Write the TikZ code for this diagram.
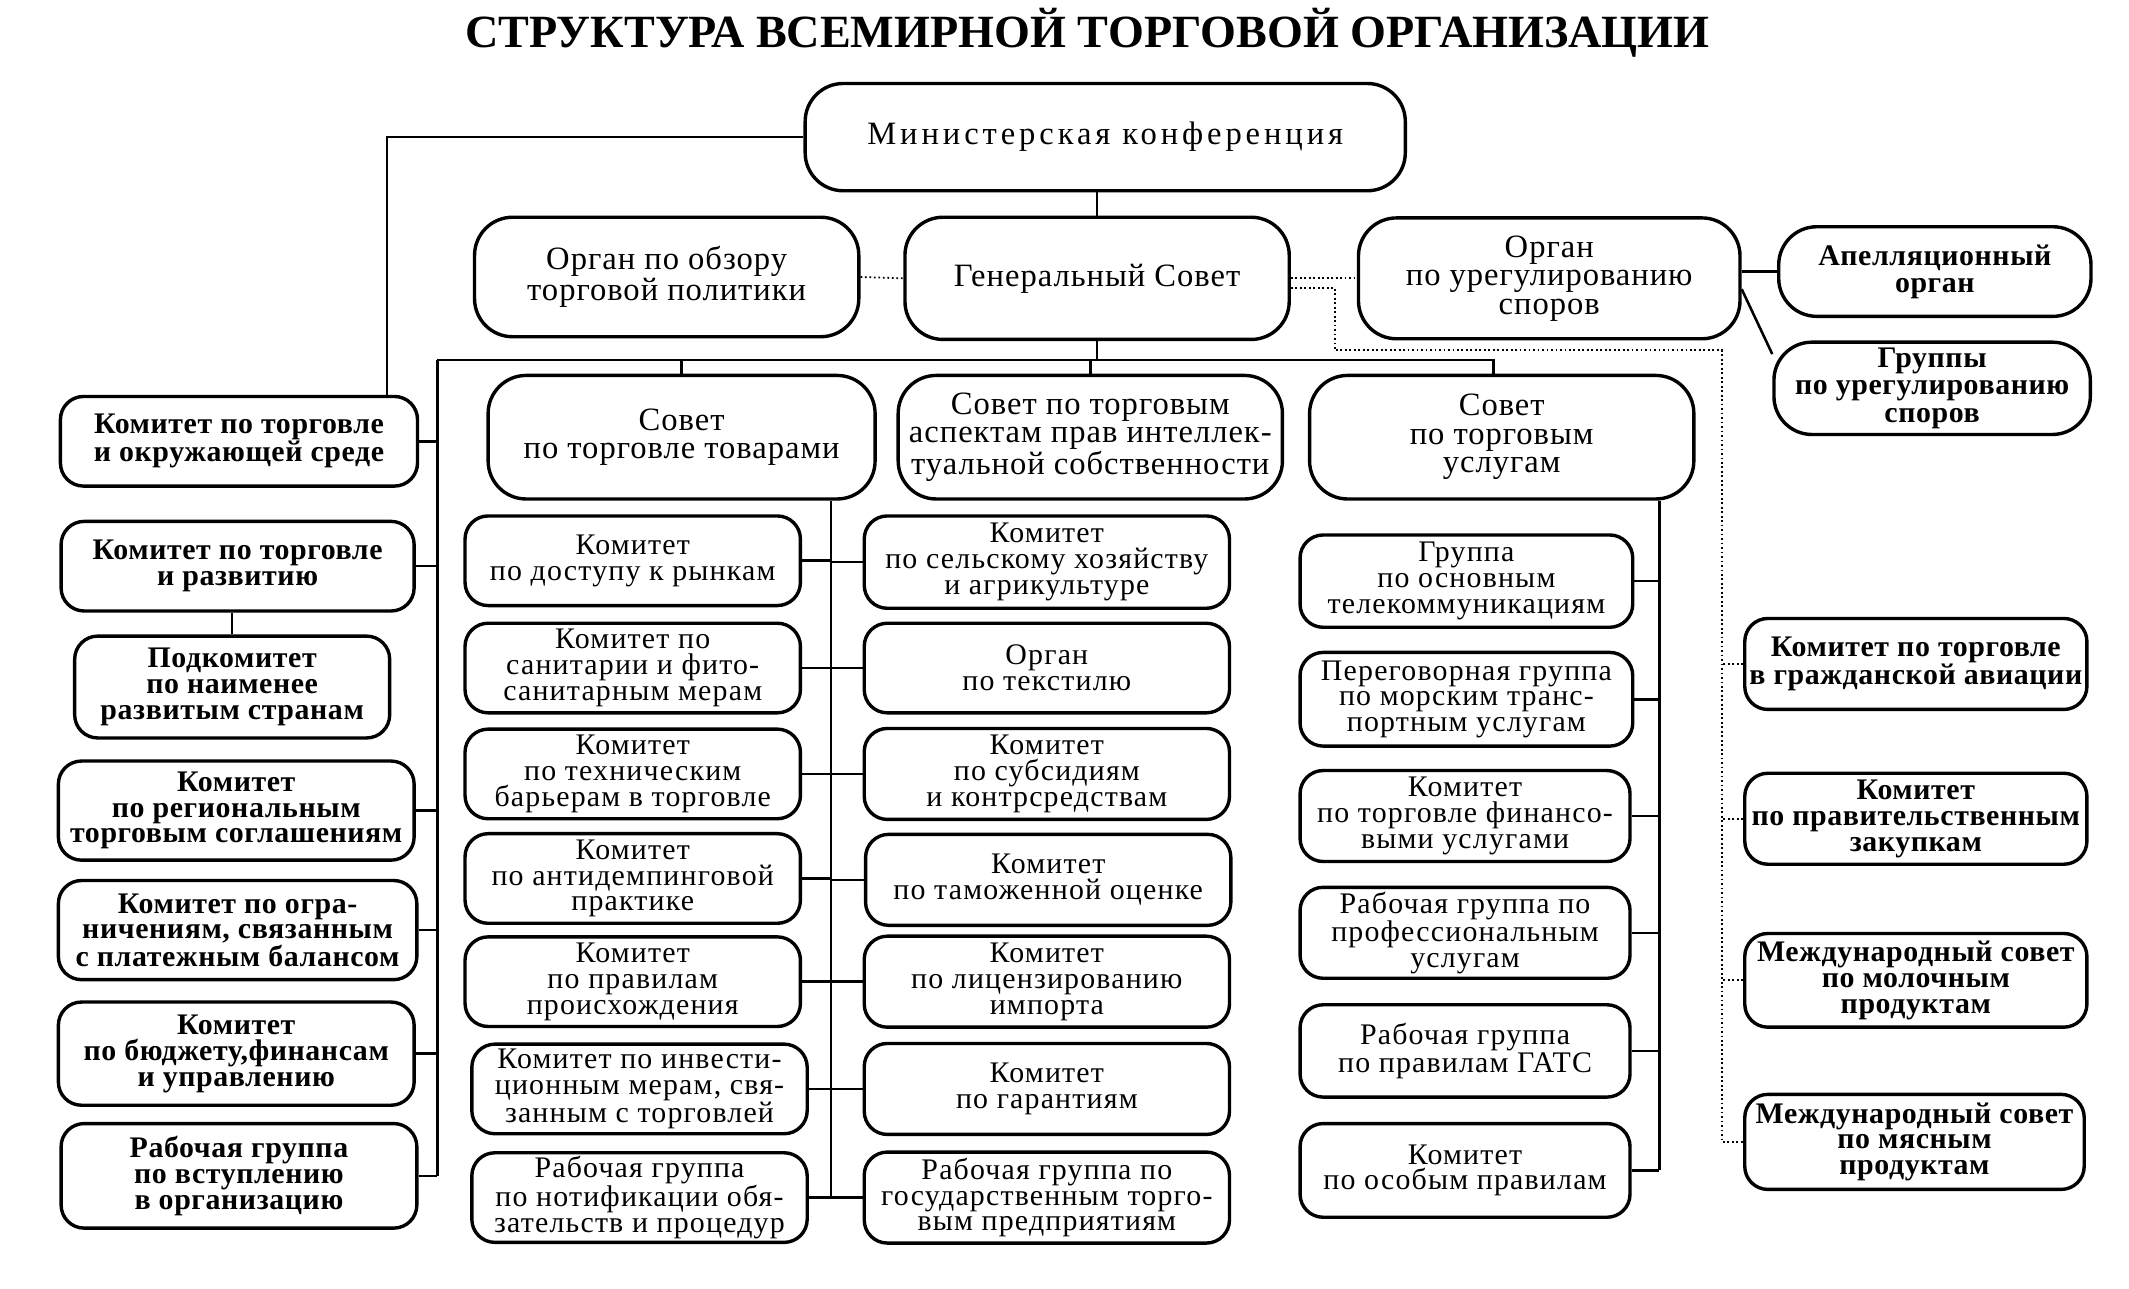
\documentclass[tikz,border=0pt]{standalone}
\usepackage{fontspec}
\setmainfont{Liberation Serif}
\begin{document}
\begin{tikzpicture}[x=1pt,y=-1pt,
  bx/.style={draw, line width=2.5pt, rounded corners=17pt, align=center, inner sep=0pt, font=\fontsize{22}{19}\selectfont\addfontfeatures{LetterSpace=4}},
  bb/.style={bx, font=\fontsize{22}{19}\selectfont\bfseries\addfontfeatures{LetterSpace=2}},
  big/.style={bx, rounded corners=28pt, font=\fontsize{24}{21}\selectfont\addfontfeatures{LetterSpace=3}},
  bigb/.style={big, font=\fontsize{22}{20}\selectfont\bfseries\addfontfeatures{LetterSpace=2}},
  ln/.style={line width=1.9pt},
  dt/.style={line width=1.3pt, dotted}]
\useasboundingbox (0,0) rectangle (1568,949);

\node[font=\fontsize{34}{34}\selectfont\bfseries] (title) at (801,24) {СТРУКТУРА ВСЕМИРНОЙ ТОРГОВОЙ ОРГАНИЗАЦИИ};

\node[big, minimum width=442, minimum height=79, font=\fontsize{24}{21}\selectfont\addfontfeatures{LetterSpace=12}] (mc) at (814,101) {Министерская конференция};
\node[big, minimum width=283, minimum height=88] (tpr) at (491,204) {Орган по обзору\\торговой политики};
\node[big, minimum width=283, minimum height=90] (gc) at (808,205) {Генеральный Совет};
\node[big, minimum width=281, minimum height=89] (dsb) at (1141,205) {Орган\\по урегулированию\\споров};
\node[bigb, minimum width=230, minimum height=66] (ab) at (1425,200) {Апелляционный\\орган};
\node[bigb, minimum width=233, minimum height=68] (pg) at (1423,286) {Группы\\по урегулированию\\споров};
\node[big, minimum width=285, minimum height=91] (ctg) at (502,322) {Совет\\по торговле товарами};
\node[big, minimum width=283, minimum height=91] (trips) at (803,322) {Совет по торговым\\аспектам прав интеллек-\\туальной собственности};
\node[big, minimum width=283, minimum height=91] (cts) at (1106,322) {Совет\\по торговым\\услугам};

% left column
\node[bb, minimum width=263, minimum height=66] (L1) at (176,325) {Комитет по торговле\\и окружающей среде};
\node[bb, minimum width=260, minimum height=66] (L2) at (175,417) {Комитет по торговле\\и развитию};
\node[bb, minimum width=232, minimum height=75] (L3) at (171,506) {Подкомитет\\по наименее\\развитым странам};
\node[bb, minimum width=262, minimum height=73] (L4) at (174,597) {Комитет\\по региональным\\торговым соглашениям};
\node[bb, minimum width=264, minimum height=73] (L5) at (175,685) {Комитет по огра-\\ничениям, связанным\\с платежным балансом};
\node[bb, minimum width=262, minimum height=76] (L6) at (174,776) {Комитет\\по бюджету,финансам\\и управлению};
\node[bb, minimum width=262, minimum height=77] (L7) at (176,866) {Рабочая группа\\по вступлению\\в организацию};

% goods committees
\node[bx, minimum width=247, minimum height=66] (M1) at (466,413) {Комитет\\по доступу к рынкам};
\node[bx, minimum width=247, minimum height=66] (M2) at (466,492) {Комитет по\\санитарии и фито-\\санитарным мерам};
\node[bx, minimum width=247, minimum height=66] (M3) at (466,570) {Комитет\\по техническим\\барьерам в торговле};
\node[bx, minimum width=247, minimum height=66] (M4) at (466,647) {Комитет\\по антидемпинговой\\практике};
\node[bx, minimum width=247, minimum height=66] (M5) at (466,723) {Комитет\\по правилам\\происхождения};
\node[bx, minimum width=247, minimum height=66] (M6) at (471,802) {Комитет по инвести-\\ционным мерам, свя-\\занным с торговлей};
\node[bx, minimum width=247, minimum height=66] (M7) at (471,882) {Рабочая группа\\по нотификации обя-\\зательств и процедур};

\node[bx, minimum width=269, minimum height=68] (N1) at (771,414) {Комитет\\по сельскому хозяйству\\и агрикультуре};
\node[bx, minimum width=269, minimum height=66] (N2) at (771,492) {Орган\\по текстилю};
\node[bx, minimum width=269, minimum height=67] (N3) at (771,570) {Комитет\\по субсидиям\\и контрсредствам};
\node[bx, minimum width=269, minimum height=67] (N4) at (772,648) {Комитет\\по таможенной оценке};
\node[bx, minimum width=269, minimum height=67] (N5) at (771,723) {Комитет\\по лицензированию\\импорта};
\node[bx, minimum width=269, minimum height=67] (N6) at (771,802) {Комитет\\по гарантиям};
\node[bx, minimum width=269, minimum height=67] (N7) at (771,882) {Рабочая группа по\\государственным торго-\\вым предприятиям};

% services
\node[bx, minimum width=245, minimum height=68] (S1) at (1080,428) {Группа\\по основным\\телекоммуникациям};
\node[bx, minimum width=245, minimum height=69] (S2) at (1080,515) {Переговорная группа\\по морским транс-\\портным услугам};
\node[bx, minimum width=243, minimum height=67] (S3) at (1079,601) {Комитет\\по торговле финансо-\\выми услугами};
\node[bx, minimum width=243, minimum height=67] (S4) at (1079,687) {Рабочая группа по\\профессиональным\\услугам};
\node[bx, minimum width=243, minimum height=68] (S5) at (1079,774) {Рабочая группа\\по правилам ГАТС};
\node[bx, minimum width=243, minimum height=69] (S6) at (1079,862) {Комитет\\по особым правилам};

% right column
\node[bb, minimum width=252, minimum height=67] (R1) at (1411,489) {Комитет по торговле\\в гражданской авиации};
\node[bb, minimum width=252, minimum height=67] (R2) at (1411,603) {Комитет\\по правительственным\\закупкам};
\node[bb, minimum width=252, minimum height=69] (R3) at (1411,722) {Международный совет\\по молочным\\продуктам};
\node[bb, minimum width=250, minimum height=70] (R4) at (1410,841) {Международный совет\\по мясным\\продуктам};

% coordinates
\coordinate (k1) at (285,0);
\coordinate (bl) at (322,265);
\coordinate (br) at (1100,265);
\coordinate (gb) at (612,0);
\coordinate (sb) at (1222,0);
\coordinate (d1) at (983,258);
\coordinate (d2) at (1268,258);

% solid connectors
\draw[ln] (mc.west) -| (L1.north -| k1);
\draw[ln] (gc.north |- mc.south) -- (gc.north);
\draw[ln] (gc.south) -- (gc.south |- bl);
\draw[ln] (bl) -- (br) -- (br |- cts.north);
\draw[ln] (ctg.north) -- (ctg.north |- bl);
\draw[ln] (trips.north) -- (trips.north |- bl);
\draw[ln] (bl) -- (bl |- L7.east);
\foreach \n in {L1,L2,L4,L5,L6,L7} \draw[ln] (\n.east) -- (bl |- \n.east);
\draw[ln] (L3.north) -- (L3.north |- L2.south);
\draw[ln] (gb |- ctg.south) -- (gb |- M7.east);
\foreach \n in {M1,M2,M3,M4,M5,M6,M7} \draw[ln] (\n.east) -- (gb |- \n.east);
\foreach \n in {N1,N2,N3,N4,N5,N6,N7} \draw[ln] (\n.west) -- (gb |- \n.west);
\draw[ln] (sb |- cts.south) -- (sb |- S6.east);
\foreach \n in {S1,S2,S3,S4,S5,S6} \draw[ln] (\n.east) -- (sb |- \n.east);
\draw[ln] (dsb.east |- ab.west) -- (ab.west);
\draw[ln] ([yshift=-8pt]dsb.east) -- ([yshift=-10pt]pg.north west);

% dotted connectors
\draw[dt] (tpr.east) -- (gc.west);
\draw[dt] (gc.east) -- (dsb.west);
\draw[dt] ([yshift=-7pt]gc.east) -| (d1) -- (d2) -- (d2 |- R4.west) -- (R4.west);
\foreach \n in {R1,R2,R3} \draw[dt] (\n.west) -- (d2 |- \n.west);
\end{tikzpicture}
\end{document}
